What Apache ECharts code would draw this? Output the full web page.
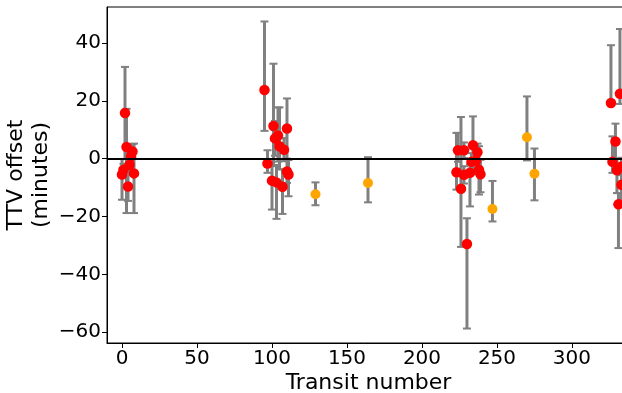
<!DOCTYPE html>
<html>
<head>
<meta charset="utf-8">
<script src="https://cdn.jsdelivr.net/npm/echarts@6/dist/echarts.min.js"></script>
<style>
html,body{margin:0;padding:0;background:#fff;}
#chart{width:622px;height:393px;}
</style>
</head>
<body>
<div id="chart"></div>
<script>
// ---- data ----
const redX     = [0, 1, 2, 3, 4, 5, 6, 7, 8,
                  95, 97, 100, 101, 102, 103, 104, 105, 107, 108, 110, 110, 111,
                  223, 224, 226, 228, 228, 230, 232, 233, 234, 236, 237, 238, 239,
                  326, 332, 329, 327, 330, 333, 333, 331];
const redY     = [-5.5, -3.8, 15.8, 4.0, -9.6, -2.1, 0.8, 2.5, -5.1,
                  23.7, -1.7, -7.6, 11.3, 7.0, -8.2, 8.0, 4.3, -9.7, 3.1, -4.4, 10.4, -5.5,
                  -4.7, 2.9, -10.4, 2.9, -5.6, -29.5, -4.9, -1.1, 4.6, -0.7, 2.2, -3.8, -5.4,
                  19.2, 22.4, 5.9, -1.1, -4.0, -2.7, -9.0, -15.8];
const redErrUp = [5.4, 2, 15.9, 13.2, 5, 3, 3.5, 2.5, 10.3,
                  23.7, 4.6, 5, 21.5, 6, 6, 9.7, 13.4, 6, 4, 4, 10.4, 5,
                  13.6, 6, 24.8, 2.7, 3, 8.9, 3, 3, 10, 3, 3, 8.1, 5,
                  20, 22.4, 6.2, 8.8, 4, 3, 5, 3.9];
const redErrDn = [8.7, 2, 16, 22.8, 5, 3, 3, 2.5, 13.7,
                  14.1, 3.2, 10, 13.7, 6, 12.6, 9, 8, 9.4, 4, 4, 10.4, 7.5,
                  6, 4, 20.1, 2.7, 3, 29.2, 11.6, 3, 10, 3, 3, 8.6, 6.2,
                  0.5, 3.5, 9.5, 3.8, 7.9, 3, 7.5, 15.1];

const orangeX     = [129, 164, 247, 270, 275];
const orangeY     = [-12.3, -8.4, -17.4, 7.4, -5.2];
const orangeErrUp = [4.1, 8.9, 9.7, 14.1, 8.7];
const orangeErrDn = [3.8, 6.7, 4.3, 8.0, 9.2];

const xTicks = [0, 50, 100, 150, 200, 250, 300];
const yTicks = [-60, -40, -20, 0, 20, 40];

// ---- build ----
const toPts = (xs, ys) => xs.map((x, i) => [x, ys[i]]);
const toErr = (xs, ys, up, dn) => xs.map((x, i) => [x, ys[i] - dn[i], ys[i] + up[i]]);
const fmt = v => String(v).replace('-', '\u2212');
const FONT = 'DejaVu Sans';

function errItem(params, api) {
  const x = api.value(0), lo = api.value(1), hi = api.value(2);
  const pt = api.coord([x, hi]);
  const pb = api.coord([x, lo]);
  const cw = 4;
  const st = {stroke: '#808080', lineWidth: 3};
  return {
    type: 'group',
    children: [
      {type: 'line', shape: {x1: pt[0], y1: pt[1], x2: pb[0], y2: pb[1]}, style: st},
      {type: 'line', shape: {x1: pt[0] - cw, y1: pt[1], x2: pt[0] + cw, y2: pt[1]}, style: {stroke: '#808080', lineWidth: 2}},
      {type: 'line', shape: {x1: pb[0] - cw, y1: pb[1], x2: pb[0] + cw, y2: pb[1]}, style: {stroke: '#808080', lineWidth: 2}}
    ]
  };
}

const chart = echarts.init(document.getElementById('chart'), null, {renderer: 'canvas'});
chart.setOption({
  animation: false,
  backgroundColor: '#fff',
  grid: {left: 107, right: -8, top: 7, bottom: 50, show: true, borderColor: '#000', borderWidth: 1,
         backgroundColor: 'transparent', containLabel: false, outerBoundsMode: 'none'},
  xAxis: {
    type: 'value', min: -10, max: 338.7,
    name: 'Transit number', nameLocation: 'middle', nameGap: 29, nameMoveOverlap: false,
    nameTextStyle: {fontFamily: FONT, fontSize: 22, color: '#000'},
    axisLine: {show: true, onZero: false, lineStyle: {color: '#000', width: 1}},
    axisTick: {show: true, length: 5, lineStyle: {color: '#000'}, customValues: xTicks},
    axisLabel: {fontFamily: FONT, fontSize: 20, color: '#000', margin: 6, customValues: xTicks, formatter: fmt},
    splitLine: {show: false}
  },
  yAxis: {
    type: 'value', min: -63.7, max: 52.4,
    name: 'TTV offset\n(minutes)', nameLocation: 'middle', nameRotate: 90, nameGap: 53, nameMoveOverlap: false,
    nameTextStyle: {fontFamily: FONT, fontSize: 22, color: '#000', lineHeight: 25},
    axisLine: {show: true, onZero: false, lineStyle: {color: '#000', width: 1}},
    axisTick: {show: true, length: 5, lineStyle: {color: '#000'}, customValues: yTicks},
    axisLabel: {fontFamily: FONT, fontSize: 20, color: '#000', margin: 6, customValues: yTicks, formatter: fmt},
    splitLine: {show: false}
  },
  series: [
    {type: 'custom', renderItem: errItem, data: toErr(redX, redY, redErrUp, redErrDn), z: 2, silent: true, clip: true},
    {type: 'custom', renderItem: errItem, data: toErr(orangeX, orangeY, orangeErrUp, orangeErrDn), z: 2, silent: true, clip: true},
    {type: 'line', data: [], z: 3, silent: true,
     markLine: {silent: true, symbol: 'none', label: {show: false}, animation: false,
                lineStyle: {color: '#000', width: 2, type: 'solid'}, data: [{yAxis: 0}]}},
    {type: 'scatter', data: toPts(redX, redY), symbol: 'circle', symbolSize: 10.5, z: 4,
     itemStyle: {color: '#ff0000', opacity: 1}},
    {type: 'scatter', data: toPts(orangeX, orangeY), symbol: 'circle', symbolSize: 10, z: 5,
     itemStyle: {color: '#ffa500', opacity: 1}}
  ]
});
</script>
</body>
</html>
